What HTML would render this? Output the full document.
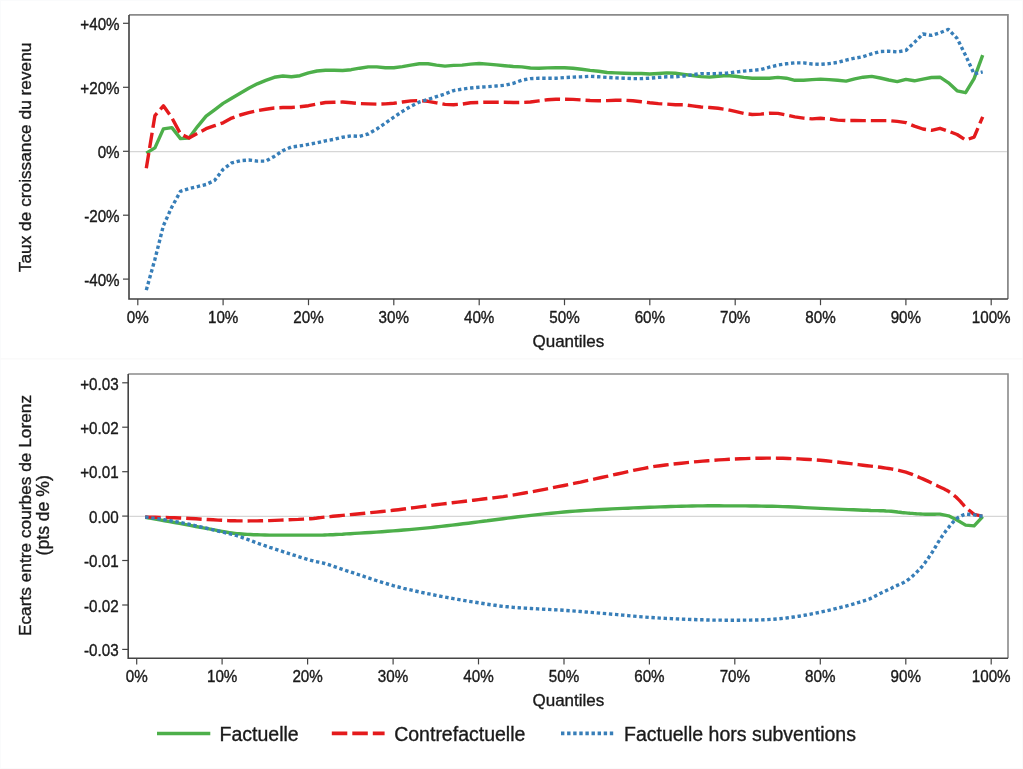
<!DOCTYPE html>
<html><head><meta charset="utf-8"><title>Graphiques</title>
<style>
html,body{margin:0;padding:0;background:#fff;}
body{width:1023px;height:769px;overflow:hidden;font-family:"Liberation Sans",sans-serif;}
svg{display:block;filter:blur(0.45px);}
</style></head><body>
<svg width="1023" height="769" viewBox="0 0 1023 769">
<rect x="0" y="0" width="1023" height="769" fill="#ffffff"/>
<rect x="0" y="0" width="1023" height="359" fill="#ffffff"/>
<line x1="130.0" y1="151.55" x2="1006.9" y2="151.55" stroke="#d6d6d6" stroke-width="1.3"/>
<polyline points="146.3,153.1 154.9,147.9 163.4,128.9 171.9,127.6 180.5,138.6 189.0,138.0 197.5,126.6 206.1,116.2 214.6,109.8 223.1,103.4 231.7,98.2 240.2,93.2 248.7,88.2 257.3,83.8 265.8,80.4 274.3,77.3 282.9,76.0 291.4,76.8 299.9,75.7 308.5,72.9 317.0,71.0 325.5,70.2 334.1,70.3 342.6,70.5 351.2,69.7 359.7,68.2 368.2,66.9 376.8,66.9 385.3,67.7 393.8,67.7 402.4,66.6 410.9,65.1 419.4,63.8 428.0,63.8 436.5,65.1 445.0,66.1 453.6,65.4 462.1,65.1 470.6,64.1 479.2,63.5 487.7,64.1 496.2,64.9 504.8,65.7 513.3,66.5 521.8,66.9 530.4,68.0 538.9,68.2 547.4,67.9 556.0,67.6 564.5,67.8 573.0,68.2 581.6,69.3 590.1,70.4 598.6,71.3 607.2,72.5 615.7,72.9 624.2,73.2 632.8,73.5 641.3,73.5 649.8,74.0 658.4,73.5 666.9,72.9 675.4,73.2 684.0,74.4 692.5,75.5 701.0,76.6 709.6,77.1 718.1,76.3 726.6,75.5 735.2,76.3 743.7,77.4 752.2,78.2 760.8,78.3 769.3,78.2 777.9,77.4 786.4,78.2 794.9,80.3 803.5,80.3 812.0,79.6 820.5,79.1 829.1,79.6 837.6,80.3 846.1,81.1 854.7,78.8 863.2,77.2 871.7,76.4 880.3,78.0 888.8,80.0 897.3,81.6 905.9,79.4 914.4,80.8 922.9,79.1 931.5,77.5 940.0,77.2 948.5,82.8 957.1,90.8 965.6,92.7 974.1,78.7 982.7,55.2" fill="none" stroke="#4daf4a" stroke-width="3.40" stroke-linejoin="round" stroke-linecap="butt"/>
<polyline points="146.3,168.2 154.9,115.7 163.4,105.8 171.9,117.8 180.5,133.9 189.0,138.1 197.5,133.4 206.1,128.7 214.6,125.7 223.1,122.8 231.7,118.1 240.2,115.0 248.7,112.7 257.3,110.6 265.8,109.2 274.3,108.0 282.9,107.5 291.4,107.5 299.9,106.7 308.5,105.7 317.0,104.1 325.5,102.5 334.1,102.3 342.6,102.0 351.2,102.8 359.7,103.6 368.2,103.9 376.8,104.1 385.3,103.9 393.8,103.3 402.4,102.0 410.9,100.9 419.4,100.5 428.0,101.3 436.5,102.8 445.0,104.4 453.6,104.7 462.1,104.1 470.6,102.8 479.2,102.4 487.7,102.2 496.2,102.2 504.8,102.2 513.3,102.5 521.8,102.5 530.4,102.0 538.9,100.9 547.4,99.7 556.0,99.2 564.5,99.3 573.0,99.4 581.6,100.0 590.1,100.5 598.6,100.8 607.2,100.6 615.7,100.2 624.2,100.2 632.8,100.8 641.3,101.7 649.8,102.8 658.4,103.6 666.9,104.1 675.4,104.7 684.0,104.8 692.5,105.9 701.0,107.0 709.6,107.5 718.1,108.3 726.6,109.5 735.2,111.4 743.7,113.4 752.2,114.5 760.8,114.1 769.3,113.3 777.9,113.4 786.4,115.0 794.9,116.9 803.5,118.1 812.0,118.9 820.5,118.3 829.1,118.9 837.6,120.1 846.1,120.6 854.7,120.4 863.2,120.6 871.7,120.6 880.3,120.6 888.8,120.6 897.3,121.4 905.9,122.6 914.4,126.1 922.9,129.0 931.5,130.3 940.0,128.3 948.5,131.2 957.1,134.5 965.6,140.1 974.1,137.1 982.7,116.8" fill="none" stroke="#e41a1c" stroke-width="3.40" stroke-linejoin="round" stroke-linecap="butt" stroke-dasharray="15.5 5"/>
<polyline points="146.3,290.1 154.9,259.4 163.4,225.6 171.9,206.9 180.5,191.3 189.0,188.6 197.5,186.6 206.1,184.5 214.6,180.4 223.1,169.4 231.7,162.9 240.2,160.7 248.7,160.0 257.3,161.1 265.8,161.1 274.3,156.4 282.9,150.6 291.4,147.0 299.9,145.9 308.5,144.4 317.0,142.8 325.5,140.8 334.1,139.3 342.6,137.2 351.2,135.9 359.7,136.4 368.2,134.0 376.8,129.0 385.3,123.1 393.8,117.2 402.4,111.4 410.9,106.3 419.4,102.0 428.0,99.4 436.5,96.6 445.0,93.9 453.6,90.6 462.1,89.1 470.6,88.0 479.2,87.2 487.7,86.7 496.2,86.0 504.8,85.3 513.3,83.3 521.8,80.2 530.4,78.6 538.9,78.3 547.4,78.3 556.0,78.2 564.5,77.6 573.0,77.1 581.6,76.8 590.1,76.3 598.6,76.8 607.2,77.4 615.7,77.9 624.2,78.2 632.8,78.6 641.3,78.6 649.8,78.2 658.4,77.4 666.9,76.8 675.4,76.8 684.0,76.0 692.5,74.7 701.0,73.6 709.6,73.6 718.1,73.6 726.6,73.2 735.2,72.1 743.7,71.1 752.2,70.4 760.8,69.6 769.3,67.2 777.9,65.1 786.4,63.8 794.9,62.8 803.5,62.9 812.0,64.0 820.5,64.3 829.1,63.6 837.6,62.4 846.1,60.1 854.7,58.2 863.2,56.6 871.7,53.8 880.3,51.5 888.8,51.2 897.3,51.9 905.9,50.4 914.4,42.4 922.9,34.0 931.5,35.4 940.0,32.8 948.5,29.4 957.1,38.4 965.6,55.4 974.1,73.9 982.7,71.9" fill="none" stroke="#377eb8" stroke-width="3.40" stroke-linejoin="round" stroke-linecap="butt" stroke-dasharray="3.4 2.7"/>
<polyline points="129.0,14.9 1007.9,14.9 1007.9,299.0" fill="none" stroke="#8a8a8a" stroke-width="1.8"/>
<polyline points="129.0,14.9 129.0,299.0 1007.9,299.0" fill="none" stroke="#404040" stroke-width="1.6"/>
<line x1="123" y1="23.3" x2="129.0" y2="23.3" stroke="#444" stroke-width="1.2"/>
<text transform="translate(119.60,23.90) scale(1.000,1.130)" x="0" y="5.44" text-anchor="end" font-size="15.20" fill="#1a1a1a" font-family="'Liberation Sans', sans-serif" stroke="#1a1a1a" stroke-width="0.35">+40%</text>
<line x1="123" y1="87.3" x2="129.0" y2="87.3" stroke="#444" stroke-width="1.2"/>
<text transform="translate(119.60,87.90) scale(1.000,1.130)" x="0" y="5.44" text-anchor="end" font-size="15.20" fill="#1a1a1a" font-family="'Liberation Sans', sans-serif" stroke="#1a1a1a" stroke-width="0.35">+20%</text>
<line x1="123" y1="151.3" x2="129.0" y2="151.3" stroke="#444" stroke-width="1.2"/>
<text transform="translate(119.60,151.90) scale(1.000,1.130)" x="0" y="5.44" text-anchor="end" font-size="15.20" fill="#1a1a1a" font-family="'Liberation Sans', sans-serif" stroke="#1a1a1a" stroke-width="0.35">0%</text>
<line x1="123" y1="215.2" x2="129.0" y2="215.2" stroke="#444" stroke-width="1.2"/>
<text transform="translate(119.60,215.80) scale(1.000,1.130)" x="0" y="5.44" text-anchor="end" font-size="15.20" fill="#1a1a1a" font-family="'Liberation Sans', sans-serif" stroke="#1a1a1a" stroke-width="0.35">-20%</text>
<line x1="123" y1="279.1" x2="129.0" y2="279.1" stroke="#444" stroke-width="1.2"/>
<text transform="translate(119.60,279.70) scale(1.000,1.130)" x="0" y="5.44" text-anchor="end" font-size="15.20" fill="#1a1a1a" font-family="'Liberation Sans', sans-serif" stroke="#1a1a1a" stroke-width="0.35">-40%</text>
<line x1="137.8" y1="299.0" x2="137.8" y2="305.2" stroke="#444" stroke-width="1.2"/>
<text transform="translate(137.80,317.30) scale(1.000,1.130)" x="0" y="5.44" text-anchor="middle" font-size="15.20" fill="#1a1a1a" font-family="'Liberation Sans', sans-serif" stroke="#1a1a1a" stroke-width="0.35">0%</text>
<line x1="223.1" y1="299.0" x2="223.1" y2="305.2" stroke="#444" stroke-width="1.2"/>
<text transform="translate(223.14,317.30) scale(1.000,1.130)" x="0" y="5.44" text-anchor="middle" font-size="15.20" fill="#1a1a1a" font-family="'Liberation Sans', sans-serif" stroke="#1a1a1a" stroke-width="0.35">10%</text>
<line x1="308.5" y1="299.0" x2="308.5" y2="305.2" stroke="#444" stroke-width="1.2"/>
<text transform="translate(308.48,317.30) scale(1.000,1.130)" x="0" y="5.44" text-anchor="middle" font-size="15.20" fill="#1a1a1a" font-family="'Liberation Sans', sans-serif" stroke="#1a1a1a" stroke-width="0.35">20%</text>
<line x1="393.8" y1="299.0" x2="393.8" y2="305.2" stroke="#444" stroke-width="1.2"/>
<text transform="translate(393.82,317.30) scale(1.000,1.130)" x="0" y="5.44" text-anchor="middle" font-size="15.20" fill="#1a1a1a" font-family="'Liberation Sans', sans-serif" stroke="#1a1a1a" stroke-width="0.35">30%</text>
<line x1="479.2" y1="299.0" x2="479.2" y2="305.2" stroke="#444" stroke-width="1.2"/>
<text transform="translate(479.16,317.30) scale(1.000,1.130)" x="0" y="5.44" text-anchor="middle" font-size="15.20" fill="#1a1a1a" font-family="'Liberation Sans', sans-serif" stroke="#1a1a1a" stroke-width="0.35">40%</text>
<line x1="564.5" y1="299.0" x2="564.5" y2="305.2" stroke="#444" stroke-width="1.2"/>
<text transform="translate(564.50,317.30) scale(1.000,1.130)" x="0" y="5.44" text-anchor="middle" font-size="15.20" fill="#1a1a1a" font-family="'Liberation Sans', sans-serif" stroke="#1a1a1a" stroke-width="0.35">50%</text>
<line x1="649.8" y1="299.0" x2="649.8" y2="305.2" stroke="#444" stroke-width="1.2"/>
<text transform="translate(649.84,317.30) scale(1.000,1.130)" x="0" y="5.44" text-anchor="middle" font-size="15.20" fill="#1a1a1a" font-family="'Liberation Sans', sans-serif" stroke="#1a1a1a" stroke-width="0.35">60%</text>
<line x1="735.2" y1="299.0" x2="735.2" y2="305.2" stroke="#444" stroke-width="1.2"/>
<text transform="translate(735.18,317.30) scale(1.000,1.130)" x="0" y="5.44" text-anchor="middle" font-size="15.20" fill="#1a1a1a" font-family="'Liberation Sans', sans-serif" stroke="#1a1a1a" stroke-width="0.35">70%</text>
<line x1="820.5" y1="299.0" x2="820.5" y2="305.2" stroke="#444" stroke-width="1.2"/>
<text transform="translate(820.52,317.30) scale(1.000,1.130)" x="0" y="5.44" text-anchor="middle" font-size="15.20" fill="#1a1a1a" font-family="'Liberation Sans', sans-serif" stroke="#1a1a1a" stroke-width="0.35">80%</text>
<line x1="905.9" y1="299.0" x2="905.9" y2="305.2" stroke="#444" stroke-width="1.2"/>
<text transform="translate(905.86,317.30) scale(1.000,1.130)" x="0" y="5.44" text-anchor="middle" font-size="15.20" fill="#1a1a1a" font-family="'Liberation Sans', sans-serif" stroke="#1a1a1a" stroke-width="0.35">90%</text>
<line x1="991.2" y1="299.0" x2="991.2" y2="305.2" stroke="#444" stroke-width="1.2"/>
<text transform="translate(991.20,317.30) scale(1.000,1.130)" x="0" y="5.44" text-anchor="middle" font-size="15.20" fill="#1a1a1a" font-family="'Liberation Sans', sans-serif" stroke="#1a1a1a" stroke-width="0.35">100%</text>
<text x="568.4" y="346.8" text-anchor="middle" font-size="17" fill="#1a1a1a" font-family="'Liberation Sans', sans-serif" stroke="#1a1a1a" stroke-width="0.35">Quantiles</text>
<text transform="translate(31.4,157.4) rotate(-90)" text-anchor="middle" font-size="17.3" fill="#1a1a1a" font-family="'Liberation Sans', sans-serif" stroke="#1a1a1a" stroke-width="0.35">Taux de croissance du revenu</text>
<line x1="129.2" y1="516.3" x2="1007.0" y2="516.3" stroke="#d6d6d6" stroke-width="1.3"/>
<polyline points="145.2,517.4 147.8,517.8 151.2,518.4 155.2,519.1 159.7,519.9 164.5,520.7 169.5,521.6 174.5,522.5 179.4,523.4 184.5,524.3 190.1,525.4 195.9,526.5 201.9,527.6 207.6,528.7 213.1,529.7 218.0,530.7 222.1,531.4 225.5,532.0 228.0,532.4 230.1,532.8 231.8,533.0 233.3,533.2 235.0,533.4 236.9,533.6 239.2,533.8 241.9,534.0 244.6,534.2 247.5,534.4 250.5,534.5 253.6,534.7 257.1,534.8 260.8,534.9 264.9,535.0 269.6,535.1 275.0,535.1 280.8,535.1 286.8,535.1 292.7,535.1 298.3,535.1 303.4,535.1 307.6,535.1 310.9,535.1 313.5,535.1 315.5,535.1 317.2,535.1 318.8,535.1 320.4,535.1 322.3,535.1 324.7,535.0 327.4,534.9 330.1,534.8 332.9,534.7 335.9,534.5 339.1,534.4 342.5,534.2 346.2,533.9 350.3,533.7 354.8,533.4 359.8,533.1 365.1,532.8 370.6,532.5 376.3,532.1 382.0,531.7 387.6,531.3 393.1,530.9 398.4,530.5 403.7,530.0 409.1,529.6 414.4,529.1 419.8,528.6 425.1,528.1 430.4,527.6 435.8,527.0 441.2,526.4 446.7,525.8 452.2,525.1 457.7,524.5 463.1,523.8 468.4,523.2 473.6,522.5 478.5,521.9 483.1,521.3 487.2,520.8 491.2,520.2 495.1,519.7 499.0,519.2 503.1,518.7 507.6,518.1 512.7,517.5 518.3,516.8 524.5,516.1 531.0,515.4 537.8,514.6 544.6,513.9 551.3,513.2 557.8,512.6 564.0,512.0 569.7,511.5 575.2,511.1 580.6,510.7 585.8,510.4 591.0,510.1 596.2,509.8 601.4,509.5 606.7,509.2 612.0,508.9 617.4,508.6 622.7,508.4 628.0,508.2 633.4,507.9 638.7,507.7 644.1,507.5 649.4,507.3 654.7,507.1 660.1,506.9 665.4,506.7 670.8,506.5 676.1,506.4 681.4,506.2 686.8,506.1 692.1,506.0 697.5,505.9 702.8,505.9 708.1,505.8 713.5,505.8 718.8,505.8 724.2,505.9 729.5,505.9 734.8,505.9 740.2,505.9 745.5,505.9 750.9,506.0 756.2,506.0 761.6,506.1 766.9,506.2 772.2,506.3 777.6,506.4 782.9,506.6 788.3,506.8 793.6,507.0 798.9,507.3 804.3,507.6 809.6,507.9 815.0,508.1 820.3,508.4 825.8,508.6 831.4,508.9 837.1,509.1 842.7,509.4 848.3,509.6 853.5,509.8 858.5,510.0 863.0,510.2 867.1,510.3 870.8,510.5 874.3,510.6 877.4,510.6 880.4,510.7 883.3,510.8 886.0,511.0 888.7,511.1 891.2,511.3 893.5,511.5 895.7,511.7 897.7,512.0 899.7,512.2 901.7,512.5 903.7,512.7 905.8,512.9 907.9,513.1 910.0,513.3 912.2,513.4 914.3,513.6 916.4,513.8 918.6,513.9 920.7,514.0 922.8,514.1 925.1,514.2 927.5,514.2 930.0,514.2 932.5,514.2 934.8,514.2 936.9,514.1 938.6,514.1 939.9,514.1 948.5,515.8 957.0,520.0 965.6,525.1 974.1,525.9 982.7,516.6" fill="none" stroke="#4daf4a" stroke-width="3.40" stroke-linejoin="round" stroke-linecap="butt"/>
<polyline points="145.2,517.0 147.8,517.1 151.2,517.1 155.2,517.2 159.7,517.4 164.5,517.5 169.5,517.6 174.5,517.8 179.4,518.0 184.5,518.2 190.1,518.5 195.9,518.8 201.9,519.2 207.6,519.5 213.1,519.8 218.0,520.1 222.1,520.3 225.5,520.5 228.0,520.6 230.1,520.7 231.8,520.8 233.3,520.8 235.0,520.8 236.9,520.9 239.2,520.9 241.9,520.9 244.6,520.9 247.5,521.0 250.5,520.9 253.6,520.9 257.1,520.9 260.8,520.8 264.9,520.7 269.6,520.6 275.0,520.4 280.8,520.1 286.8,519.9 292.7,519.6 298.3,519.4 303.4,519.1 307.6,518.9 310.9,518.7 313.5,518.5 315.5,518.3 317.2,518.0 318.8,517.8 320.4,517.6 322.3,517.4 324.7,517.1 327.4,516.8 330.1,516.6 332.9,516.3 335.9,516.0 339.1,515.7 342.5,515.4 346.2,515.0 350.3,514.6 354.8,514.2 359.8,513.7 365.1,513.2 370.6,512.6 376.3,512.1 382.0,511.5 387.6,510.9 393.1,510.3 398.4,509.7 403.7,509.0 409.1,508.3 414.4,507.6 419.8,506.9 425.1,506.2 430.4,505.5 435.8,504.8 441.2,504.1 446.7,503.5 452.2,502.8 457.7,502.1 463.1,501.5 468.4,500.8 473.6,500.2 478.5,499.6 483.1,499.0 487.2,498.5 491.2,498.1 495.1,497.6 499.0,497.1 503.1,496.6 507.6,495.9 512.7,495.1 518.3,494.1 524.5,493.0 531.0,491.9 537.8,490.6 544.6,489.3 551.3,488.0 557.8,486.7 564.0,485.5 569.7,484.3 575.2,483.2 580.6,482.1 585.8,480.9 591.0,479.8 596.2,478.7 601.4,477.5 606.7,476.4 612.0,475.2 617.4,474.0 622.7,472.8 628.0,471.6 633.4,470.4 638.7,469.3 644.1,468.3 649.4,467.3 654.7,466.4 660.1,465.7 665.4,465.0 670.8,464.3 676.1,463.7 681.4,463.2 686.8,462.6 692.1,462.1 697.5,461.6 702.8,461.1 708.1,460.7 713.5,460.3 718.8,459.9 724.2,459.6 729.5,459.3 734.8,459.0 740.2,458.8 745.5,458.6 750.9,458.4 756.2,458.3 761.6,458.2 766.9,458.1 772.2,458.1 777.6,458.2 782.9,458.3 788.3,458.5 793.6,458.7 798.9,458.9 804.3,459.2 809.6,459.5 815.0,459.9 820.3,460.3 825.8,460.8 831.4,461.4 837.1,462.0 842.7,462.7 848.3,463.4 853.5,464.0 858.5,464.6 863.0,465.2 867.1,465.7 870.8,466.1 874.3,466.5 877.4,466.9 880.4,467.3 883.3,467.7 886.0,468.1 888.7,468.5 891.2,468.9 893.5,469.3 895.7,469.7 897.7,470.1 899.7,470.6 901.7,471.1 903.7,471.6 905.8,472.2 907.9,472.9 910.0,473.6 912.2,474.4 914.3,475.3 916.4,476.2 918.6,477.1 920.7,478.0 922.8,478.9 925.0,479.9 927.3,480.9 929.6,482.0 931.9,483.1 934.1,484.2 936.3,485.2 938.2,486.2 939.9,487.0 941.4,487.7 942.7,488.3 943.8,488.8 944.7,489.2 945.6,489.7 946.5,490.1 947.5,490.7 948.5,491.3 949.5,492.0 950.6,492.7 951.7,493.5 952.7,494.3 953.8,495.2 954.9,496.1 956.0,497.0 957.0,498.0 958.1,499.1 959.4,500.4 960.6,501.7 961.8,503.1 963.0,504.4 964.0,505.6 964.9,506.6 965.6,507.3 974.1,514.4 982.7,516.3" fill="none" stroke="#e41a1c" stroke-width="3.40" stroke-linejoin="round" stroke-linecap="butt" stroke-dasharray="15.5 5"/>
<polyline points="145.2,517.0 147.8,517.4 151.2,517.8 155.2,518.4 159.7,519.0 164.5,519.8 169.5,520.5 174.5,521.4 179.4,522.3 184.5,523.3 190.1,524.5 195.9,525.8 201.9,527.2 207.6,528.5 213.1,529.8 218.0,531.0 222.1,532.0 225.5,532.8 228.0,533.4 230.1,533.9 231.8,534.3 233.3,534.7 235.0,535.2 236.9,535.7 239.2,536.5 241.9,537.4 244.6,538.4 247.5,539.4 250.5,540.5 253.6,541.7 257.1,543.0 260.8,544.3 264.9,545.7 269.6,547.3 275.0,549.0 280.8,550.9 286.8,552.9 292.7,554.8 298.3,556.5 303.4,558.1 307.6,559.4 310.9,560.3 313.5,561.0 315.5,561.5 317.2,561.8 318.8,562.1 320.4,562.4 322.3,562.8 324.7,563.5 327.4,564.3 330.1,565.2 332.9,566.1 335.9,567.1 339.1,568.2 342.5,569.3 346.2,570.6 350.3,571.9 354.8,573.4 359.8,575.0 365.1,576.8 370.6,578.7 376.3,580.5 382.0,582.3 387.6,584.0 393.1,585.6 398.4,587.0 403.7,588.4 409.1,589.6 414.4,590.8 419.8,592.0 425.1,593.1 430.4,594.2 435.8,595.3 441.2,596.4 446.7,597.4 452.2,598.4 457.7,599.4 463.1,600.3 468.4,601.2 473.6,602.0 478.5,602.8 483.1,603.5 487.2,604.2 491.2,604.8 495.1,605.3 499.0,605.9 503.1,606.4 507.6,606.8 512.7,607.3 518.3,607.7 524.5,608.1 531.0,608.5 537.8,608.9 544.6,609.2 551.3,609.6 557.8,609.9 564.0,610.3 569.7,610.7 575.2,611.1 580.6,611.5 585.8,612.0 591.0,612.4 596.2,612.8 601.4,613.3 606.7,613.7 612.0,614.2 617.4,614.6 622.7,615.1 628.0,615.6 633.4,616.1 638.7,616.6 644.1,617.0 649.4,617.4 654.7,617.7 660.1,618.1 665.4,618.4 670.8,618.6 676.1,618.9 681.4,619.1 686.8,619.3 692.1,619.5 697.5,619.7 702.8,619.8 708.1,620.0 713.5,620.1 718.8,620.1 724.2,620.2 729.5,620.2 734.8,620.2 740.2,620.2 745.5,620.1 750.9,620.1 756.2,620.0 761.6,619.9 766.9,619.7 772.2,619.3 777.6,618.9 782.9,618.4 788.3,617.7 793.6,617.0 798.9,616.2 804.3,615.3 809.6,614.3 815.0,613.3 820.3,612.2 825.8,611.0 831.6,609.7 837.4,608.2 843.3,606.8 848.9,605.3 854.1,603.8 858.9,602.4 863.0,601.2 866.4,600.1 869.1,599.1 871.3,598.1 873.2,597.2 874.8,596.3 876.4,595.4 878.2,594.5 880.1,593.5 882.3,592.5 884.6,591.4 886.9,590.3 889.2,589.2 891.4,588.2 893.5,587.1 895.5,586.2 897.2,585.4 898.7,584.7 899.9,584.2 901.0,583.7 902.0,583.3 902.9,582.9 903.8,582.5 904.7,582.0 905.8,581.4 906.8,580.7 907.9,579.9 909.0,579.1 910.0,578.3 911.1,577.4 912.2,576.4 913.2,575.5 914.3,574.5 915.4,573.5 916.4,572.5 917.5,571.4 918.6,570.3 919.6,569.2 920.7,568.0 921.8,566.8 922.8,565.5 923.9,564.2 925.0,562.8 926.0,561.3 927.1,559.8 928.2,558.3 929.2,556.7 930.3,555.1 931.4,553.5 932.5,551.8 933.5,550.1 934.6,548.3 935.7,546.5 936.7,544.7 937.8,542.9 938.9,541.2 939.9,539.5 941.0,537.9 942.1,536.3 943.1,534.8 944.2,533.3 945.3,531.8 946.3,530.3 947.4,528.9 948.5,527.6 949.5,526.3 950.6,525.0 951.7,523.7 952.7,522.5 953.8,521.3 954.9,520.2 956.0,519.2 957.0,518.3 958.1,517.5 959.4,516.8 960.6,516.2 961.8,515.6 963.0,515.1 964.0,514.7 964.9,514.4 965.6,514.1 974.1,514.9 982.7,516.3" fill="none" stroke="#377eb8" stroke-width="3.40" stroke-linejoin="round" stroke-linecap="butt" stroke-dasharray="3.4 2.7"/>
<polyline points="128.2,374.0 1008.0,374.0 1008.0,658.3" fill="none" stroke="#8a8a8a" stroke-width="1.6"/>
<polyline points="128.2,374.0 128.2,658.3 1008.0,658.3" fill="none" stroke="#444" stroke-width="1.6"/>
<line x1="122.2" y1="382.8" x2="128.2" y2="382.8" stroke="#444" stroke-width="1.2"/>
<text transform="translate(118.60,383.40) scale(1.000,1.130)" x="0" y="5.44" text-anchor="end" font-size="15.20" fill="#1a1a1a" font-family="'Liberation Sans', sans-serif" stroke="#1a1a1a" stroke-width="0.35">+0.03</text>
<line x1="122.2" y1="427.2" x2="128.2" y2="427.2" stroke="#444" stroke-width="1.2"/>
<text transform="translate(118.60,427.83) scale(1.000,1.130)" x="0" y="5.44" text-anchor="end" font-size="15.20" fill="#1a1a1a" font-family="'Liberation Sans', sans-serif" stroke="#1a1a1a" stroke-width="0.35">+0.02</text>
<line x1="122.2" y1="471.7" x2="128.2" y2="471.7" stroke="#444" stroke-width="1.2"/>
<text transform="translate(118.60,472.26) scale(1.000,1.130)" x="0" y="5.44" text-anchor="end" font-size="15.20" fill="#1a1a1a" font-family="'Liberation Sans', sans-serif" stroke="#1a1a1a" stroke-width="0.35">+0.01</text>
<line x1="122.2" y1="516.1" x2="128.2" y2="516.1" stroke="#444" stroke-width="1.2"/>
<text transform="translate(118.60,516.69) scale(1.000,1.130)" x="0" y="5.44" text-anchor="end" font-size="15.20" fill="#1a1a1a" font-family="'Liberation Sans', sans-serif" stroke="#1a1a1a" stroke-width="0.35">0.00</text>
<line x1="122.2" y1="560.5" x2="128.2" y2="560.5" stroke="#444" stroke-width="1.2"/>
<text transform="translate(118.60,561.12) scale(1.000,1.130)" x="0" y="5.44" text-anchor="end" font-size="15.20" fill="#1a1a1a" font-family="'Liberation Sans', sans-serif" stroke="#1a1a1a" stroke-width="0.35">-0.01</text>
<line x1="122.2" y1="605.0" x2="128.2" y2="605.0" stroke="#444" stroke-width="1.2"/>
<text transform="translate(118.60,605.55) scale(1.000,1.130)" x="0" y="5.44" text-anchor="end" font-size="15.20" fill="#1a1a1a" font-family="'Liberation Sans', sans-serif" stroke="#1a1a1a" stroke-width="0.35">-0.02</text>
<line x1="122.2" y1="649.4" x2="128.2" y2="649.4" stroke="#444" stroke-width="1.2"/>
<text transform="translate(118.60,649.98) scale(1.000,1.130)" x="0" y="5.44" text-anchor="end" font-size="15.20" fill="#1a1a1a" font-family="'Liberation Sans', sans-serif" stroke="#1a1a1a" stroke-width="0.35">-0.03</text>
<line x1="136.7" y1="658.3" x2="136.7" y2="664.4" stroke="#444" stroke-width="1.2"/>
<text transform="translate(136.70,676.30) scale(1.000,1.130)" x="0" y="5.44" text-anchor="middle" font-size="15.20" fill="#1a1a1a" font-family="'Liberation Sans', sans-serif" stroke="#1a1a1a" stroke-width="0.35">0%</text>
<line x1="222.1" y1="658.3" x2="222.1" y2="664.4" stroke="#444" stroke-width="1.2"/>
<text transform="translate(222.15,676.30) scale(1.000,1.130)" x="0" y="5.44" text-anchor="middle" font-size="15.20" fill="#1a1a1a" font-family="'Liberation Sans', sans-serif" stroke="#1a1a1a" stroke-width="0.35">10%</text>
<line x1="307.6" y1="658.3" x2="307.6" y2="664.4" stroke="#444" stroke-width="1.2"/>
<text transform="translate(307.60,676.30) scale(1.000,1.130)" x="0" y="5.44" text-anchor="middle" font-size="15.20" fill="#1a1a1a" font-family="'Liberation Sans', sans-serif" stroke="#1a1a1a" stroke-width="0.35">20%</text>
<line x1="393.1" y1="658.3" x2="393.1" y2="664.4" stroke="#444" stroke-width="1.2"/>
<text transform="translate(393.05,676.30) scale(1.000,1.130)" x="0" y="5.44" text-anchor="middle" font-size="15.20" fill="#1a1a1a" font-family="'Liberation Sans', sans-serif" stroke="#1a1a1a" stroke-width="0.35">30%</text>
<line x1="478.5" y1="658.3" x2="478.5" y2="664.4" stroke="#444" stroke-width="1.2"/>
<text transform="translate(478.50,676.30) scale(1.000,1.130)" x="0" y="5.44" text-anchor="middle" font-size="15.20" fill="#1a1a1a" font-family="'Liberation Sans', sans-serif" stroke="#1a1a1a" stroke-width="0.35">40%</text>
<line x1="564.0" y1="658.3" x2="564.0" y2="664.4" stroke="#444" stroke-width="1.2"/>
<text transform="translate(563.95,676.30) scale(1.000,1.130)" x="0" y="5.44" text-anchor="middle" font-size="15.20" fill="#1a1a1a" font-family="'Liberation Sans', sans-serif" stroke="#1a1a1a" stroke-width="0.35">50%</text>
<line x1="649.4" y1="658.3" x2="649.4" y2="664.4" stroke="#444" stroke-width="1.2"/>
<text transform="translate(649.40,676.30) scale(1.000,1.130)" x="0" y="5.44" text-anchor="middle" font-size="15.20" fill="#1a1a1a" font-family="'Liberation Sans', sans-serif" stroke="#1a1a1a" stroke-width="0.35">60%</text>
<line x1="734.8" y1="658.3" x2="734.8" y2="664.4" stroke="#444" stroke-width="1.2"/>
<text transform="translate(734.85,676.30) scale(1.000,1.130)" x="0" y="5.44" text-anchor="middle" font-size="15.20" fill="#1a1a1a" font-family="'Liberation Sans', sans-serif" stroke="#1a1a1a" stroke-width="0.35">70%</text>
<line x1="820.3" y1="658.3" x2="820.3" y2="664.4" stroke="#444" stroke-width="1.2"/>
<text transform="translate(820.30,676.30) scale(1.000,1.130)" x="0" y="5.44" text-anchor="middle" font-size="15.20" fill="#1a1a1a" font-family="'Liberation Sans', sans-serif" stroke="#1a1a1a" stroke-width="0.35">80%</text>
<line x1="905.8" y1="658.3" x2="905.8" y2="664.4" stroke="#444" stroke-width="1.2"/>
<text transform="translate(905.75,676.30) scale(1.000,1.130)" x="0" y="5.44" text-anchor="middle" font-size="15.20" fill="#1a1a1a" font-family="'Liberation Sans', sans-serif" stroke="#1a1a1a" stroke-width="0.35">90%</text>
<line x1="991.2" y1="658.3" x2="991.2" y2="664.4" stroke="#444" stroke-width="1.2"/>
<text transform="translate(991.20,676.30) scale(1.000,1.130)" x="0" y="5.44" text-anchor="middle" font-size="15.20" fill="#1a1a1a" font-family="'Liberation Sans', sans-serif" stroke="#1a1a1a" stroke-width="0.35">100%</text>
<text x="568.4" y="705.8" text-anchor="middle" font-size="17" fill="#1a1a1a" font-family="'Liberation Sans', sans-serif" stroke="#1a1a1a" stroke-width="0.35">Quantiles</text>
<text transform="translate(31.4,515.5) rotate(-90)" text-anchor="middle" font-size="17.3" fill="#1a1a1a" font-family="'Liberation Sans', sans-serif" stroke="#1a1a1a" stroke-width="0.35">Ecarts entre courbes de Lorenz</text>
<text transform="translate(49.2,515.3) rotate(-90)" text-anchor="middle" font-size="17.6" fill="#1a1a1a" font-family="'Liberation Sans', sans-serif" stroke="#1a1a1a" stroke-width="0.35">(pts de %)</text>
<line x1="157" y1="733.5" x2="210.3" y2="733.5" stroke="#4daf4a" stroke-width="3.6"/>
<text x="219.6" y="740.8" font-size="19.5" fill="#1a1a1a" font-family="'Liberation Sans', sans-serif" stroke="#1a1a1a" stroke-width="0.35">Factuelle</text>
<line x1="331.8" y1="733.4" x2="384.6" y2="733.4" stroke="#e41a1c" stroke-width="3.6" stroke-dasharray="15.5 5"/>
<text x="394.2" y="740.8" font-size="19.5" fill="#1a1a1a" font-family="'Liberation Sans', sans-serif" stroke="#1a1a1a" stroke-width="0.35">Contrefactuelle</text>
<line x1="561" y1="733.4" x2="614" y2="733.4" stroke="#377eb8" stroke-width="3.6" stroke-dasharray="3.4 2.7"/>
<text x="624" y="740.8" font-size="19.5" fill="#1a1a1a" font-family="'Liberation Sans', sans-serif" stroke="#1a1a1a" stroke-width="0.35">Factuelle hors subventions</text>
<rect x="0.5" y="0.5" width="1022" height="768" fill="none" stroke="#fafbfc" stroke-width="1"/>
<line x1="0" y1="358.8" x2="1023" y2="358.8" stroke="#fafafa" stroke-width="1.5"/>
</svg>
</body></html>
